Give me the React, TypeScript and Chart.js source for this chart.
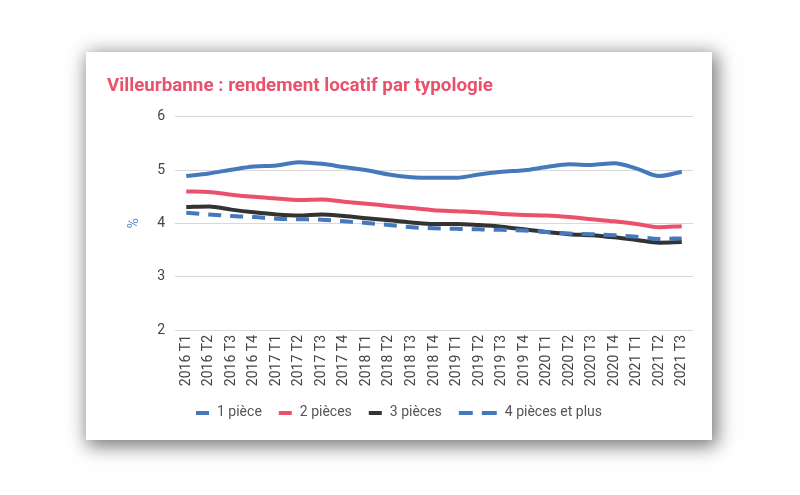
import React, { useEffect, useRef } from "react";
import { Chart, registerables } from "chart.js";

Chart.register(...registerables);

const categories = [
  "2016 T1", "2016 T2", "2016 T3", "2016 T4",
  "2017 T1", "2017 T2", "2017 T3", "2017 T4",
  "2018 T1", "2018 T2", "2018 T3", "2018 T4",
  "2019 T1", "2019 T2", "2019 T3", "2019 T4",
  "2020 T1", "2020 T2", "2020 T3", "2020 T4",
  "2021 T1", "2021 T2", "2021 T3",
];

const seriesLabels = ["1 pièce", "2 pièces", "3 pièces", "4 pièces et plus"];

const onePiece = [4.89, 4.94, 5.01, 5.07, 5.09, 5.15, 5.12, 5.06, 5.0, 4.92, 4.87, 4.86, 4.86, 4.92, 4.97, 5.0, 5.06, 5.11, 5.1, 5.13, 5.03, 4.89, 4.97];
const twoPieces = [4.6, 4.59, 4.54, 4.5, 4.47, 4.44, 4.45, 4.41, 4.37, 4.33, 4.29, 4.25, 4.23, 4.21, 4.18, 4.16, 4.15, 4.12, 4.08, 4.04, 3.99, 3.93, 3.95];
const threePieces = [4.31, 4.32, 4.26, 4.21, 4.17, 4.15, 4.17, 4.14, 4.1, 4.06, 4.02, 3.99, 3.99, 3.97, 3.94, 3.89, 3.84, 3.8, 3.78, 3.74, 3.69, 3.64, 3.65];
const fourPlus = [4.2, 4.17, 4.14, 4.12, 4.09, 4.08, 4.07, 4.04, 4.01, 3.97, 3.93, 3.91, 3.9, 3.89, 3.88, 3.87, 3.84, 3.81, 3.8, 3.78, 3.75, 3.71, 3.72];

const yTicks = [2, 3, 4, 5, 6];

const BLUE = "#4679bb";
const RED = "#e9516d";
const BLACK = "#333333";
const DASH = [13, 9];

const customLegend = {
  id: "customLegend",
  afterDraw(chart: any) {
    const ctx = chart.ctx as CanvasRenderingContext2D;
    const items = chart.data.datasets.map((d: any) => ({
      label: d.label,
      color: d.borderColor,
      dashed: !!(d.borderDash && d.borderDash.length),
    }));
    ctx.save();
    ctx.font = "14px Roboto";
    const markerW = (it: any) => (it.dashed ? 38 : 13);
    const gap = 8;
    const spacing = 17;
    let total = 0;
    items.forEach((it: any, i: number) => {
      total += markerW(it) + gap + ctx.measureText(it.label).width;
      if (i < items.length - 1) total += spacing;
    });
    let x = chart.width / 2 - total / 2;
    const y = 360;
    items.forEach((it: any) => {
      ctx.fillStyle = it.color;
      if (it.dashed) {
        ctx.fillRect(x, y - 1, 14, 4);
        ctx.fillRect(x + 23, y - 1, 15, 4);
      } else {
        ctx.fillRect(x, y - 1, 13, 4);
      }
      x += markerW(it) + gap;
      ctx.fillStyle = "#555555";
      ctx.textBaseline = "middle";
      ctx.textAlign = "left";
      ctx.fillText(it.label, x, y);
      x += ctx.measureText(it.label).width + spacing;
    });
    ctx.restore();
  },
};

export default function App() {
  const canvasRef = useRef<HTMLCanvasElement | null>(null);

  useEffect(() => {
    if (!canvasRef.current) return;
    const line = (label: string, data: number[], color: string, dashed: boolean, order: number) => ({
      label,
      data,
      borderColor: color,
      backgroundColor: color,
      borderWidth: 4,
      borderDash: dashed ? DASH : [],
      pointRadius: 0,
      pointHoverRadius: 0,
      tension: 0.4,
      cubicInterpolationMode: "monotone" as const,
      fill: false,
      order,
    });
    const chart = new Chart(canvasRef.current, {
      type: "line",
      data: {
        labels: categories,
        datasets: [
          line(seriesLabels[0], onePiece, BLUE, false, 1),
          line(seriesLabels[1], twoPieces, RED, false, 1),
          line(seriesLabels[2], threePieces, BLACK, false, 1),
          line(seriesLabels[3], fourPlus, BLUE, true, 0),
        ],
      },
      options: {
        animation: false,
        responsive: false,
        maintainAspectRatio: false,
        layout: { padding: { left: 21, right: 19, top: 23, bottom: 52 } },
        plugins: {
          legend: { display: false },
          tooltip: { enabled: false },
          title: {
            display: true,
            text: "Villeurbanne : rendement locatif par typologie",
            align: "start",
            color: RED,
            font: { family: "Roboto", size: 18.8, weight: "bold" },
            padding: { top: 0, bottom: 19.4 },
          },
        },
        scales: {
          x: {
            type: "category",
            offset: true,
            grid: { display: false, drawTicks: false },
            border: { display: false },
            ticks: {
              autoSkip: false,
              maxRotation: 90,
              minRotation: 90,
              padding: 5,
              color: "#444444",
              font: { family: "Roboto", size: 14 },
            },
            afterFit: (s: any) => {
              s.height = 58;
            },
          },
          y: {
            min: 2,
            max: 6,
            afterBuildTicks: (s: any) => {
              s.ticks = yTicks.map((v) => ({ value: v }));
            },
            grid: { color: "#d9d9d9", drawTicks: false, lineWidth: 1 },
            border: { display: false },
            ticks: {
              padding: 10,
              color: "#444444",
              font: { family: "Roboto", size: 14 },
            },
            title: {
              display: true,
              text: "%",
              color: "#5b8fd3",
              font: { family: "Roboto", size: 14 },
              padding: { top: 19, bottom: 0 },
            },
            afterFit: (s: any) => {
              s.width = 68;
            },
          },
        },
      },
      plugins: [customLegend],
    });
    return () => chart.destroy();
  }, []);

  return (
    <div style={{ position: "fixed", left: 0, top: 0, width: 800, height: 495, background: "#ffffff" }}>
      <div
        style={{
          position: "absolute",
          left: 86,
          top: 52,
          width: 626,
          height: 388,
          background: "#ffffff",
          boxShadow: "3px 4px 18px 2px rgba(0,0,0,0.55)",
        }}
      >
        <canvas ref={canvasRef} width={626} height={388} style={{ display: "block" }} />
      </div>
    </div>
  );
}
